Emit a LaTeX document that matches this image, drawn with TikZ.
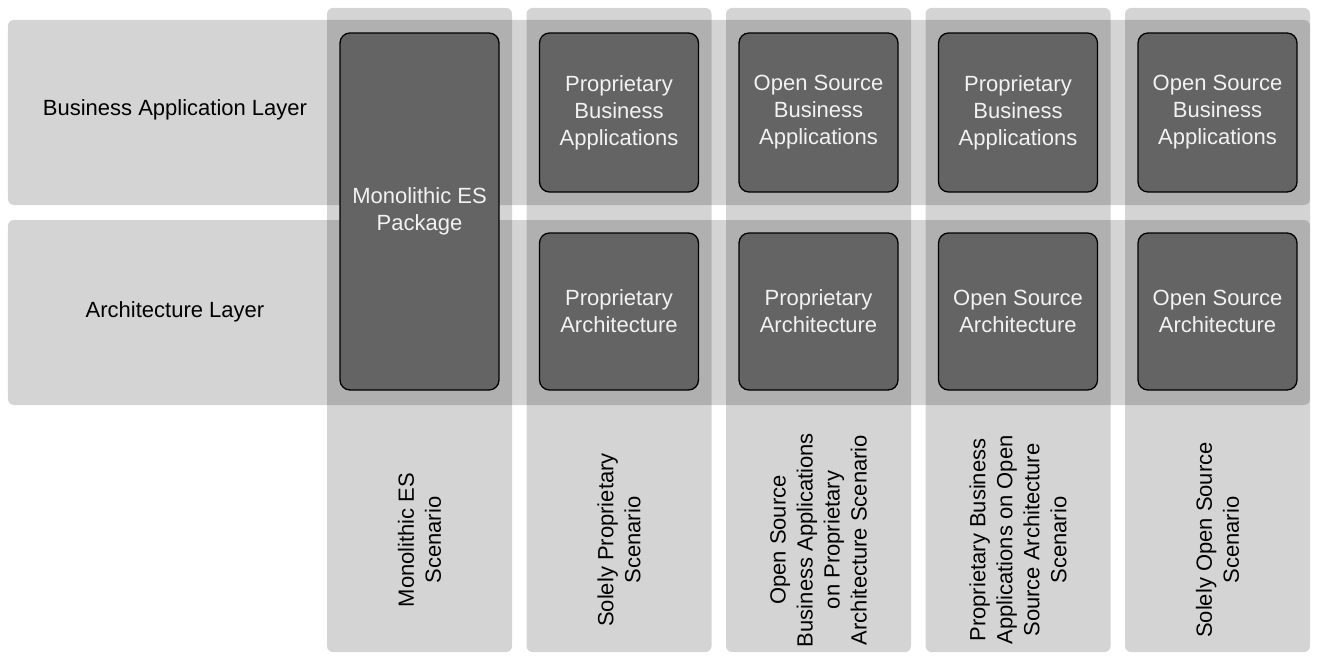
\documentclass[tikz,border=0pt]{standalone}
\usepackage{fontspec}
\setmainfont{Liberation Sans}
\definecolor{boxgray}{HTML}{646464}
\definecolor{boxtext}{HTML}{F2F2F2}
\newcommand{\labelfont}{\fontsize{22bp}{27bp}\selectfont}
\begin{document}
\begin{tikzpicture}[x=1bp,y=-1bp,
  band/.style={rectangle, rounded corners=6bp, fill=black, fill opacity=0.17,
    draw=none, inner sep=0pt},
  rowband/.style={band, minimum width=1302bp, minimum height=185bp},
  colband/.style={band, minimum width=185bp, minimum height=644bp},
  comp/.style={rectangle, rounded corners=10bp, fill=boxgray, draw=black,
    line width=1.3bp, text=boxtext, align=center, inner sep=0pt,
    minimum width=159bp, font=\labelfont},
  toprow/.style={comp, minimum height=159bp},
  botrow/.style={comp, minimum height=157bp},
  lbl/.style={align=center, font=\labelfont, text=black, inner sep=0pt},
  scen/.style={lbl, rotate=90}]
\useasboundingbox (0,0) rectangle (1318,656);

% layer bands
\node[rowband] (bizband)  at (659,112.5) {};
\node[rowband] (archband) at (659,312.5) {};

% scenario columns
\foreach \i in {0,...,4}
  \node[colband] (col\i) at (419.5+199.5*\i,330) {};

% layer labels
\node[lbl] (bizlbl)  at (175,110) {Business Application Layer};
\node[lbl] (archlbl) at (175,312) {Architecture Layer};

% monolithic package spans both layers
\node[comp, minimum height=357bp] (mono) at (419.5,211.5) {Monolithic ES\\Package};

% business application components
\node[toprow] (biz1) at (619,112.5) {Proprietary\\Business\\Applications};
\node[toprow] (biz2) at (818.5,112.5) {Open Source\\Business\\Applications};
\node[toprow] (biz3) at (1018,112.5) {Proprietary\\Business\\Applications};
\node[toprow] (biz4) at (1217.5,112.5) {Open Source\\Business\\Applications};

% architecture components
\node[botrow] (arch1) at (619,311.5) {Proprietary\\Architecture};
\node[botrow] (arch2) at (818.5,311.5) {Proprietary\\Architecture};
\node[botrow] (arch3) at (1018,311.5) {Open Source\\Architecture};
\node[botrow] (arch4) at (1217.5,311.5) {Open Source\\Architecture};

% scenario names
\node[scen] (scen0) at (419.5,540) {Monolithic ES\\Scenario};
\node[scen] (scen1) at (619,540) {Solely Proprietary\\Scenario};
\node[scen] (scen2) at (818.5,540) {Open Source\\Business Applications\\on Proprietary\\Architecture Scenario};
\node[scen] (scen3) at (1018,540) {Proprietary Business\\Applications on Open\\Source Architecture\\Scenario};
\node[scen] (scen4) at (1217.5,540) {Solely Open Source\\Scenario};
\end{tikzpicture}
\end{document}
